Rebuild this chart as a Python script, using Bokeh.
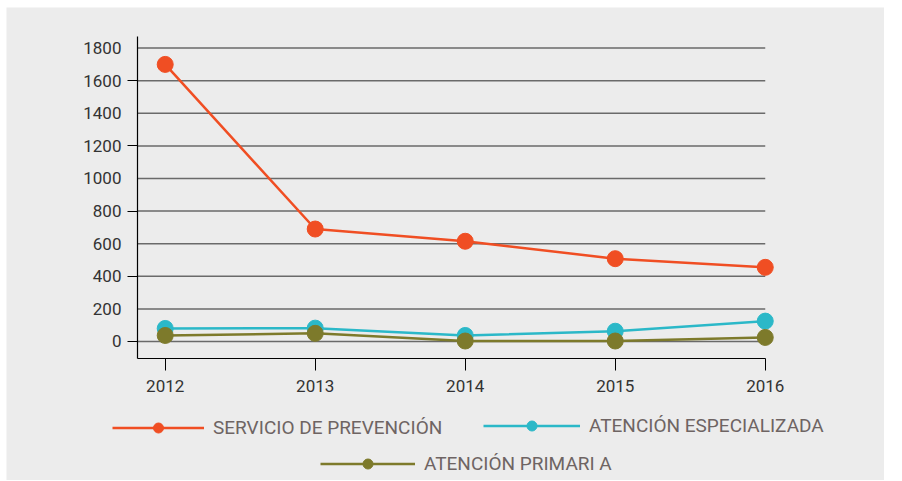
from bokeh.plotting import figure
from bokeh.models import FixedTicker, Legend, LegendItem, Range1d
from bokeh.embed import file_html
from bokeh.resources import INLINE

years = [2012, 2013, 2014, 2015, 2016]
servicio = [1700, 690, 615, 508, 455]
especializada = [80, 82, 37, 63, 125]
primaria = [37, 50, 3, 3, 25]
y_ticks = [0, 200, 400, 600, 800, 1000, 1200, 1400, 1600, 1800]
y_minor = [0, 400, 800, 1200, 1600]

names = ["SERVICIO DE PREVENCIÓN", "ATENCIÓN ESPECIALIZADA", "ATENCIÓN PRIMARI A"]
colors = ["#f04e23", "#2bb8c8", "#7d7a2b"]
series = [servicio, especializada, primaria]

FONT = "Roboto"
BG = "#ececec"

# axis extents (data units)
X_AXIS_START, X_AXIS_END = 2011.815, 2016
Y_AXIS_START, Y_AXIS_END = -104.3, 1871

p = figure(width=884, height=480, output_backend="svg", toolbar_location=None,
           x_range=Range1d(2010.942, 2016.795), y_range=Range1d(-852.8, 2049.1),
           background_fill_color=BG, border_fill_color="white",
           min_border_left=6, min_border_top=7, min_border_right=0,
           min_border_bottom=0)
p.outline_line_color = None

# horizontal grid lines limited to the axis extent
p.xgrid.visible = False
p.ygrid.visible = False
p.segment(x0=[X_AXIS_START] * len(y_ticks), x1=[X_AXIS_END] * len(y_ticks),
          y0=y_ticks, y1=y_ticks, line_color="#6a6a6a", line_width=1.5)

renderers = []
for vals, c in zip(series, colors):
    l = p.line(years, vals, line_color=c, line_width=2.5)
    s = p.scatter(years, vals, size=16, fill_color=c, line_color=c)
    renderers.append((l, s))

p.xaxis.fixed_location = Y_AXIS_START
p.xaxis.ticker = FixedTicker(ticks=years)
p.xaxis.bounds = (X_AXIS_START, X_AXIS_END)
p.xaxis.major_tick_out = 12
p.xaxis.major_tick_in = 0
p.xaxis.minor_tick_line_color = None
p.xaxis.major_label_standoff = 10

p.yaxis.fixed_location = X_AXIS_START
p.yaxis.ticker = FixedTicker(ticks=y_ticks, minor_ticks=y_minor)
p.yaxis.bounds = (Y_AXIS_START, Y_AXIS_END)
p.yaxis.major_tick_out = 0
p.yaxis.major_tick_in = 0
p.yaxis.minor_tick_out = 10
p.yaxis.minor_tick_in = 0
p.yaxis.major_label_standoff = 6

for ax in (p.xaxis, p.yaxis):
    ax.axis_line_color = "black"
    ax.axis_line_width = 1.2
    ax.major_tick_line_color = "black"
    ax.minor_tick_line_color = "black"
    ax.major_label_text_font = FONT
    ax.major_label_text_font_size = "17px"
    ax.major_label_text_color = "#333333"

locs = [(106, 40.5), (477, 42.5), (314, 4.5)]
gws = [92, 97, 95]
for (l, s), name, loc, gw in zip(renderers, names, locs, gws):
    leg = Legend(items=[LegendItem(label=name, renderers=[l, s])], location=loc,
                 glyph_width=gw, glyph_height=25, label_standoff=9,
                 padding=0, margin=0, background_fill_alpha=0,
                 border_line_color=None,
                 label_text_font=FONT, label_text_font_size="19px",
                 label_text_color="#6e6463")
    p.add_layout(leg, "center")

open("out.html", "w").write(file_html(p, INLINE))
